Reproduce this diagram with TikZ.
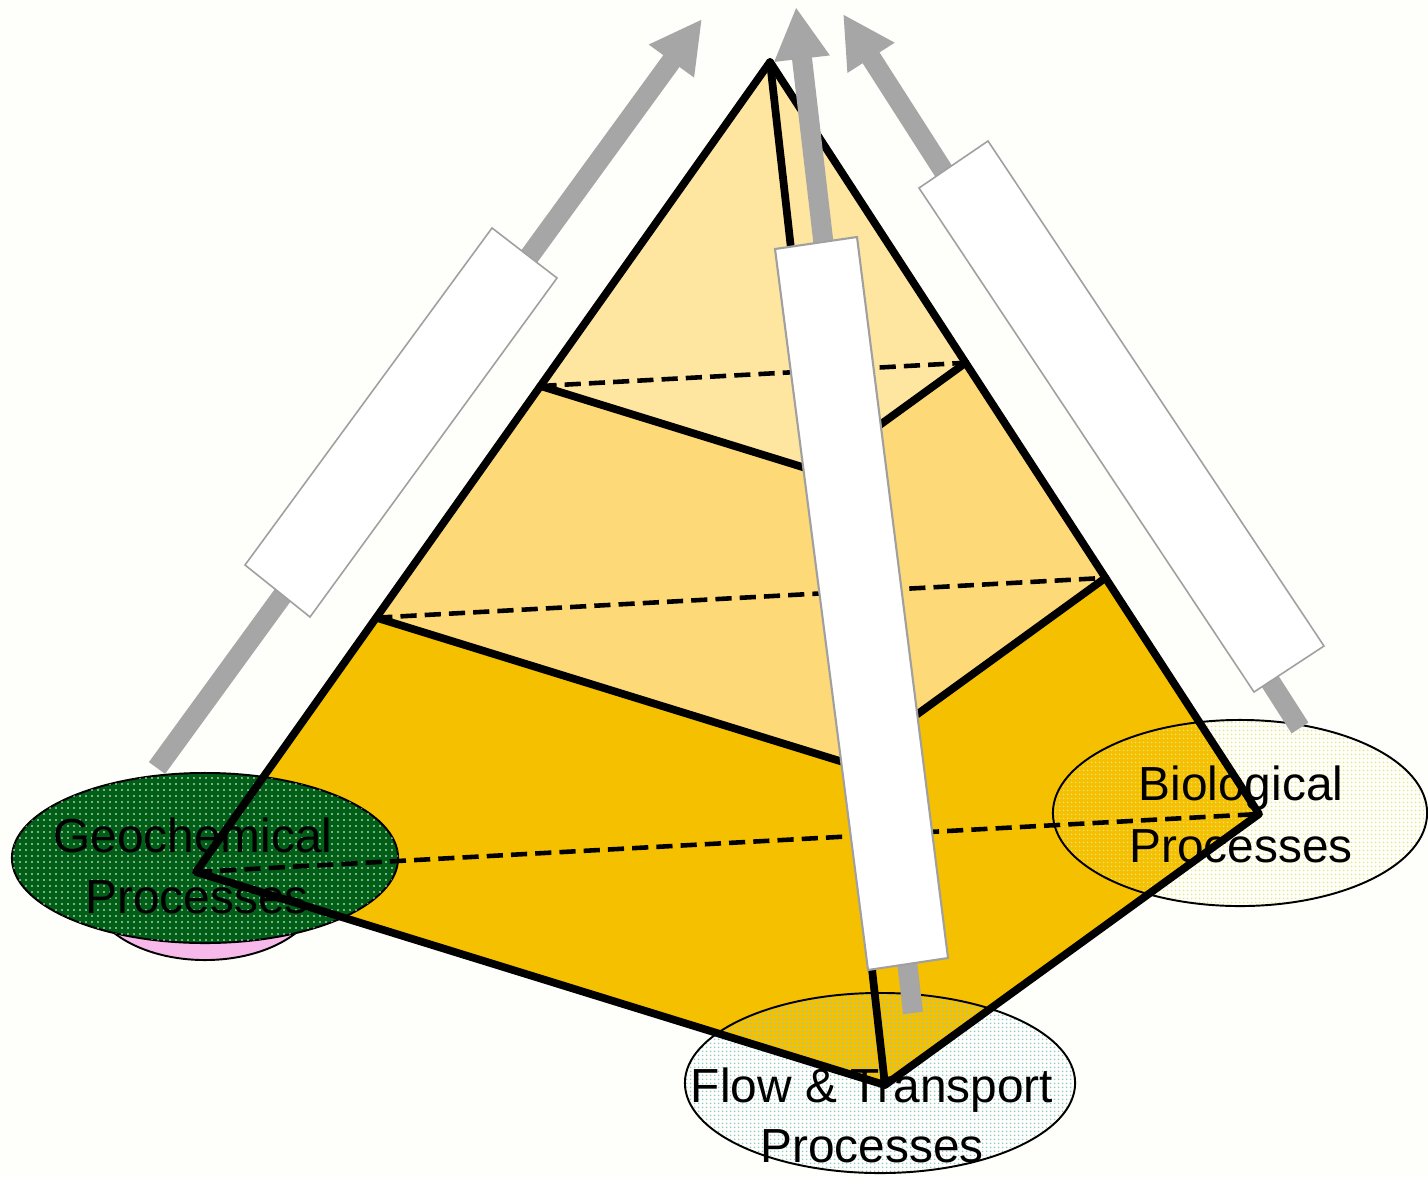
\documentclass[tikz,border=0pt]{standalone}
\usepackage{fontspec}
\setmainfont{Liberation Sans}
\usetikzlibrary{calc,shapes.geometric,patterns.meta,arrows.meta}

\definecolor{bandA}{HTML}{FEE6A0}
\definecolor{bandB}{HTML}{FED977}
\definecolor{bandC}{HTML}{F5C000}
\definecolor{geogreen}{HTML}{005E16}
\definecolor{pinkshadow}{HTML}{F6B9EA}
\definecolor{biodot}{HTML}{E6E47A}
\definecolor{flowdot}{HTML}{8CC6D0}
\definecolor{arrowgray}{HTML}{A6A6A6}
\definecolor{bargray}{HTML}{A0A0A0}
\definecolor{bgcol}{HTML}{FEFEFB}

\tikzdeclarepattern{
  name=finedots,
  type=uncolored,
  bounding box={(0pt,0pt) and (1.14pt,1.14pt)},
  tile size={(1.14pt,1.14pt)},
  code={\fill (0.57pt,0.57pt) circle (0.28pt);}
}
\tikzdeclarepattern{
  name=sparsedots,
  type=uncolored,
  bounding box={(0pt,0pt) and (1.7pt,1.7pt)},
  tile size={(1.7pt,1.7pt)},
  code={\fill (0.85pt,0.85pt) circle (0.26pt);}
}

\begin{document}
\begin{tikzpicture}[x=0.01cm,y=-0.01cm,
  edge/.style={draw=black,line width=2.2pt,line join=round,line cap=round},
  hidden/.style={draw=black,line width=1.3pt,dash pattern=on 4.6pt off 2.3pt},
  garrow/.style={draw=arrowgray,line width=0.2cm,-{Triangle[length=0.52cm,width=0.52cm]}},
  whitebar/.style={fill=white,draw=bargray,line width=0.45pt},
  procell/.style={ellipse,draw=black,line width=0.55pt,inner sep=0pt},
  lbl/.style={font=\fontsize{13.6}{16}\selectfont,anchor=base,inner sep=0pt,text=black}
]
\useasboundingbox (0,0) rectangle (1428,1176);
\fill[bgcol] (0,0) rectangle (1428,1176);

% pyramid corners
\coordinate (A) at (770,62);
\coordinate (L) at (196,872);
\coordinate (F) at (885,1085);
\coordinate (R) at (1259,814);
\coordinate (L1) at ($(A)!0.4!(L)$);
\coordinate (F1) at ($(A)!0.4!(F)$);
\coordinate (R1) at ($(A)!0.4!(R)$);
\coordinate (L2) at ($(A)!0.686!(L)$);
\coordinate (F2) at ($(A)!0.686!(F)$);
\coordinate (R2) at ($(A)!0.686!(R)$);

% band fills
\fill[bandC] (L2) -- (L) -- (F) -- (R) -- (R2) -- (F2) -- cycle;
\fill[bandB] (L1) -- (L2) -- (F2) -- (R2) -- (R1) -- (F1) -- cycle;
\fill[bandA] (A) -- (L1) -- (F1) -- (R1) -- cycle;

% process ellipses
\node[procell,fill=pinkshadow,minimum width=2.3cm,minimum height=1.4cm] (geoshadow) at (205,890) {};
\node[procell,fill=geogreen,postaction={pattern=sparsedots,pattern color=white},
      minimum width=3.86cm,minimum height=1.7cm] (geo) at (205,858) {};
\node[procell,pattern=finedots,pattern color=biodot,
      minimum width=3.74cm,minimum height=1.86cm] (bio) at (1240,813) {};
\node[procell,pattern=finedots,pattern color=flowdot,
      minimum width=3.9cm,minimum height=1.8cm] (flow) at (880,1083) {};

% pyramid lines
\draw[hidden] (L1) -- (R1);
\draw[hidden] (L2) -- (R2);
\draw[hidden] (L) -- (R);
\draw[edge] (L1) -- (F1) -- (R1);
\draw[edge] (L2) -- (F2) -- (R2);
\draw[edge] (A) -- (F);
\draw[edge] (A) -- (L) -- (F) -- (R) -- cycle;

% arrows
\coordinate (ga0) at (157,768);
\coordinate (ga1) at (702,19);
\coordinate (gb0) at (913,1013);
\coordinate (gb1) at (796,7);
\coordinate (gc0) at (1300,728);
\coordinate (gc1) at (843,14);
\draw[garrow] (ga0) -- (ga1);
\draw[garrow] (gb0) -- (gb1);
\draw[garrow] (gc0) -- (gc1);

% white bars
\filldraw[whitebar] (492,228) -- (557,278) -- (310,617) -- (245,565) -- cycle;
\filldraw[whitebar] (988,141) -- (1324,646) -- (1254,692) -- (919,188) -- cycle;
\filldraw[whitebar,line width=0.6pt] (775,249) -- (857,237) -- (948,958) -- (868,970) -- cycle;

% labels
\node[lbl] (geoA) at (193,852) {Geochemical};
\node[lbl] (geoB) at (197,913) {Processes};
\node[lbl] (bioA) at (1241,800) {Biological};
\node[lbl] (bioB) at (1241,862) {Processes};
\node[lbl] (flowA) at (872,1102) {Flow \& Transport};
\node[lbl] (flowB) at (872,1162) {Processes};
\end{tikzpicture}
\end{document}
